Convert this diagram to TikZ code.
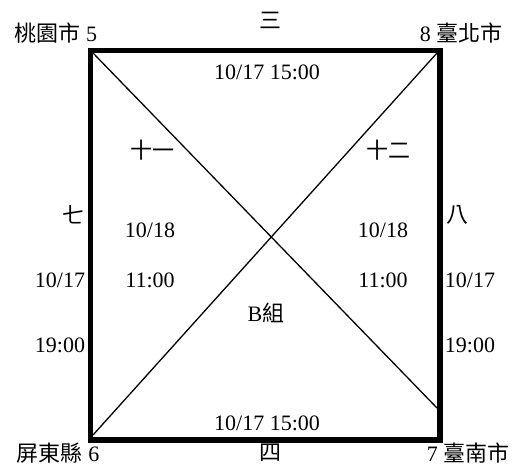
\documentclass[tikz,border=0pt]{standalone}
\usepackage{fontspec}
\setmainfont{Liberation Serif}
\newfontfamily\cjk{Noto Sans CJK TC}
\usepackage{tikz}
\usetikzlibrary{positioning}
\tikzstyle{frame} = [line width=5.5pt, line join=miter]
\tikzstyle{diag} = [line width=1.3pt]
\tikzstyle{lbl} = [inner sep=0pt, font=\fontsize{22}{26}\selectfont]

\begin{document}
\begin{tikzpicture}[x=1pt, y=-1pt]
    \useasboundingbox (0,0) rectangle (531,472);
    % Corners
    \coordinate (tl) at (90.5,50.5);
    \coordinate (tr) at (440,50.5);
    \coordinate (br) at (440,440);
    \coordinate (bl) at (90.5,440);
    \coordinate (dtl) at (93,53);
    \coordinate (dtr) at (437,53);
    \coordinate (dbr) at (437,408);
    \coordinate (dbl) at (93,435);

    % Square and diagonals
    \draw[diag] (dtl) -- (dbr);
    \draw[diag] (dtr) -- (dbl);
    \draw[frame] (tl) -- (tr) -- (br) -- (bl) -- cycle;

    % Teams
    \node[lbl] (taoyuan) at (56,33) {{\cjk 桃園市} 5};
    \node[lbl] (taipei) at (461,33) {8 {\cjk 臺北市}};
    \node[lbl] (pingtung) at (58,453) {{\cjk 屏東縣} 6};
    \node[lbl] (tainan) at (468,453) {7 {\cjk 臺南市}};

    % Games
    \node[lbl] (g3) at (270,20) {\cjk 三};
    \node[lbl] (g3t) at (267,72) {10/17 15:00};
    \node[lbl] (g4) at (270,453) {\cjk 四};
    \node[lbl] (g4t) at (267,423) {10/17 15:00};
    \node[lbl] (g7) at (73,215) {\cjk 七};
    \node[lbl] (g7d) at (60,280) {10/17};
    \node[lbl] (g7t) at (60,345) {19:00};
    \node[lbl] (g8) at (457,215) {\cjk 八};
    \node[lbl] (g8d) at (470,280) {10/17};
    \node[lbl] (g8t) at (470,345) {19:00};
    \node[lbl] (g11) at (152,150) {\cjk 十一};
    \node[lbl] (g11d) at (150,230) {10/18};
    \node[lbl] (g11t) at (150,280) {11:00};
    \node[lbl] (g12) at (388,150) {\cjk 十二};
    \node[lbl] (g12d) at (383,230) {10/18};
    \node[lbl] (g12t) at (383,280) {11:00};
    \node[lbl] (grp) at (266,313) {B{\cjk 組}};
\end{tikzpicture}
\end{document}
